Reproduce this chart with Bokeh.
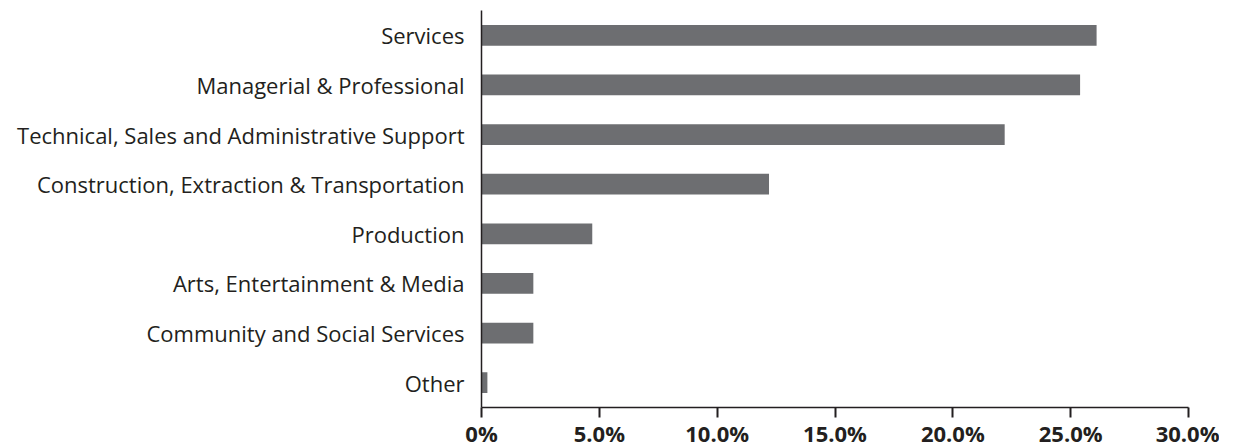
from bokeh.plotting import figure
from bokeh.models import FactorRange, Range1d, FixedTicker, ColumnDataSource
from bokeh.embed import file_html
from bokeh.resources import INLINE

categories = [
    "Services",
    "Managerial & Professional",
    "Technical, Sales and Administrative Support",
    "Construction, Extraction & Transportation",
    "Production",
    "Arts, Entertainment & Media",
    "Community and Social Services",
    "Other",
]
shares = [26.1, 25.4, 22.2, 12.2, 4.7, 2.2, 2.2, 0.25]
tick_values = [0, 5, 10, 15, 20, 25, 30]
tick_labels = ["0%", "5.0%", "10.0%", "15.0%", "20.0%", "25.0%", "30.0%"]

src = ColumnDataSource(dict(cat=categories, val=shares))

p = figure(
    width=1219, height=450,
    y_range=FactorRange(factors=list(reversed(categories)), range_padding=0),
    x_range=Range1d(0, 30),
    output_backend="svg", toolbar_location=None,
    min_border_left=481, min_border_right=31, min_border_top=10, min_border_bottom=0,
)
p.hbar(y="cat", right="val", left=0, height=0.42, source=src,
       fill_color="#6d6e71", line_color=None)

p.outline_line_color = None
p.xgrid.grid_line_color = None
p.ygrid.grid_line_color = None

ax = p.xaxis[0]
ax.axis_label = None
ax.ticker = FixedTicker(ticks=tick_values)
ax.major_label_overrides = {v: l for v, l in zip(tick_values, tick_labels)}
ax.minor_tick_line_color = None
ax.major_tick_out = 10
ax.major_tick_in = 0
ax.major_tick_line_width = 2
ax.major_tick_line_color = "#231f20"
ax.axis_line_color = "#231f20"
ax.axis_line_width = 1.5
ax.major_label_text_font = "Open Sans"
ax.major_label_text_font_style = "bold"
ax.major_label_text_font_size = "22px"
ax.major_label_text_color = "#231f20"
ax.major_label_standoff = 0

ay = p.yaxis[0]
ay.axis_label = None
ay.major_tick_out = 0
ay.major_tick_in = 0
ay.minor_tick_line_color = None
ay.axis_line_color = "#231f20"
ay.axis_line_width = 1.5
ay.major_label_text_font = "Open Sans"
ay.major_label_text_font_size = "22px"
ay.major_label_text_color = "#231f20"
ay.major_label_standoff = 17

open("out.html", "w").write(file_html(p, INLINE))
